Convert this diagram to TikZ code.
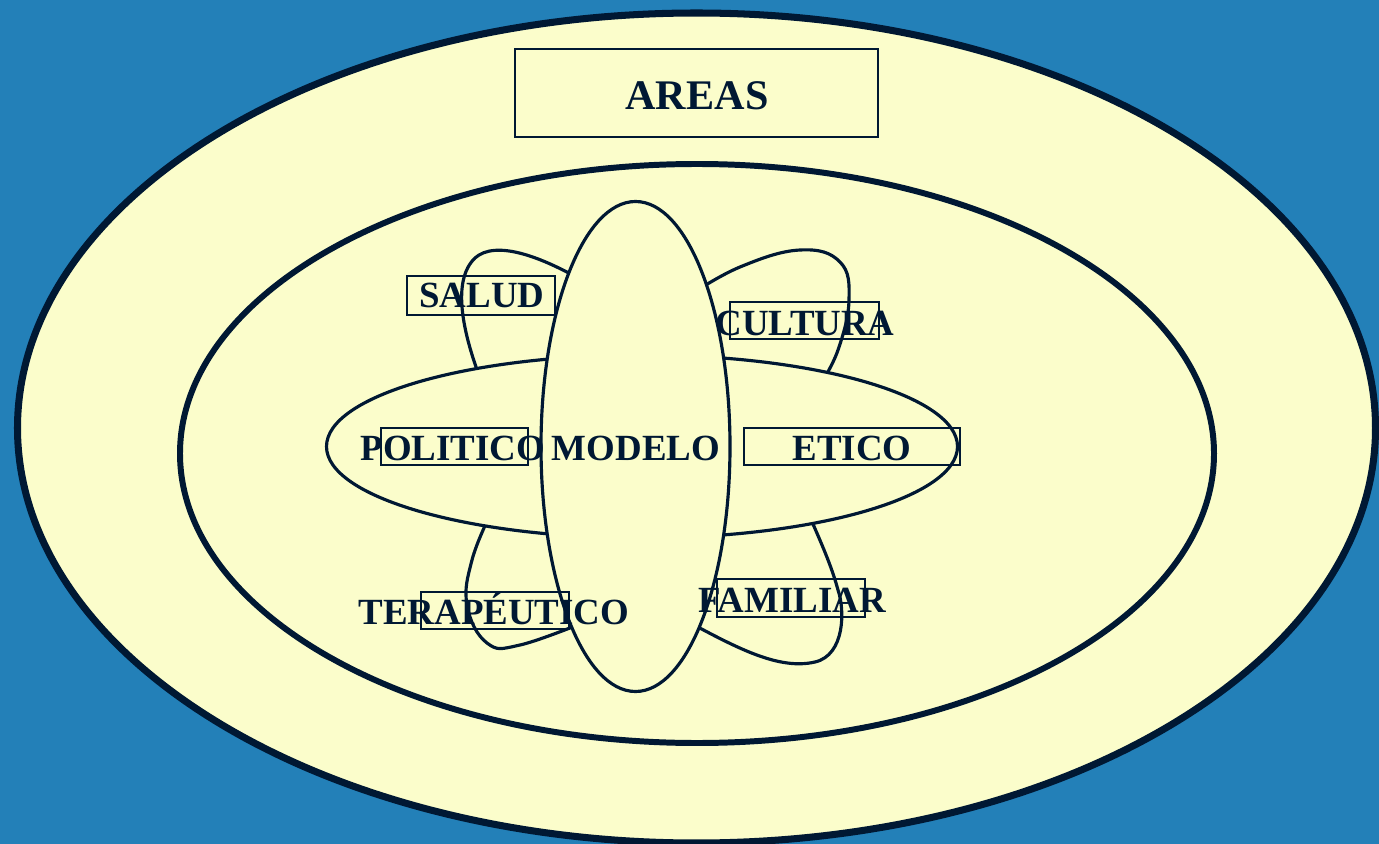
\documentclass[tikz,border=0pt]{standalone}
\usepackage{fontspec}
\setmainfont{Liberation Serif}
\definecolor{bg}{HTML}{2380B8}
\definecolor{cream}{HTML}{FBFDCB}
\definecolor{ink}{HTML}{001833}
\begin{document}
\begin{tikzpicture}[x=0.02cm,y=-0.02cm,
  lbl/.style={font=\bfseries\fontsize{21}{25}\selectfont, text=ink, inner sep=0, anchor=base},
  frame/.style={draw=ink, line width=1.2pt, inner sep=0, rectangle},
  petal/.style={draw=ink, line width=1.8pt},
  cross/.style={draw=ink, fill=cream, line width=1.8pt}]
\fill[bg] (0,0) rectangle (1379,844);
\useasboundingbox (0,0) rectangle (1379,844);
% outer and inner ellipses
\filldraw[fill=cream, draw=ink, line width=4pt] (696.5,428) ellipse [x radius=679, y radius=415];
\node[frame, minimum width=7.26cm, minimum height=1.76cm] (areasbox) at (696.5,93) {};
\node[lbl, font=\bfseries\fontsize{24}{28}\selectfont] (areas) at (697,109.5) {AREAS};
\filldraw[fill=cream, draw=ink, line width=3.4pt] (697,453.5) ellipse [x radius=517, y radius=289.5];
% petals
\draw[petal] (480,378) .. controls (462,330) and (452,280) .. (475,258) .. controls (495,240) and (540,255) .. (590,285);
\draw[petal] plot[smooth, tension=0.7] coordinates {(690,295) (740,267) (800,250) (840,262) (849,300) (838,350) (820,385)};
\draw[petal] plot[smooth, tension=0.7] coordinates {(490,515) (472,560) (467,605) (487,643) (520,645) (590,620)};
\draw[petal] (685,620) .. controls (740,650) and (780,670) .. (815,662) .. controls (845,655) and (845,610) .. (838,590) .. controls (830,560) and (815,530) .. (805,505);
% cross ellipses
\filldraw[cross] (642,446.5) ellipse [x radius=315.5, y radius=91.5];
\filldraw[cross] (635.5,446.5) ellipse [x radius=94.5, y radius=245];
% label frames
\node[frame, minimum width=2.96cm, minimum height=0.78cm] (saludbox) at (481,295.5) {};
\node[frame, minimum width=2.98cm, minimum height=0.74cm] (culturabox) at (804.5,320.5) {};
\node[frame, minimum width=2.94cm, minimum height=0.74cm] (politicobox) at (454.5,446.5) {};
\node[frame, minimum width=4.32cm, minimum height=0.74cm] (eticobox) at (852,446.5) {};
\node[frame, minimum width=2.96cm, minimum height=0.74cm] (terapbox) at (495,610.5) {};
\node[frame, minimum width=2.96cm, minimum height=0.76cm] (familiarbox) at (791,598) {};
% labels
\node[lbl] (salud) at (482,308) {SALUD};
\node[lbl] (cultura) at (805,336) {CULTURA};
\node[lbl] (politico) at (453,460.5) {POLITICO};
\node[lbl] (modelo) at (636,460.5) {MODELO};
\node[lbl] (etico) at (852,460.5) {ETICO};
\node[lbl] (terap) at (494,624) {TERAPÉUTICO};
\node[lbl] (familiar) at (792,612) {FAMILIAR};
\end{tikzpicture}
\end{document}
